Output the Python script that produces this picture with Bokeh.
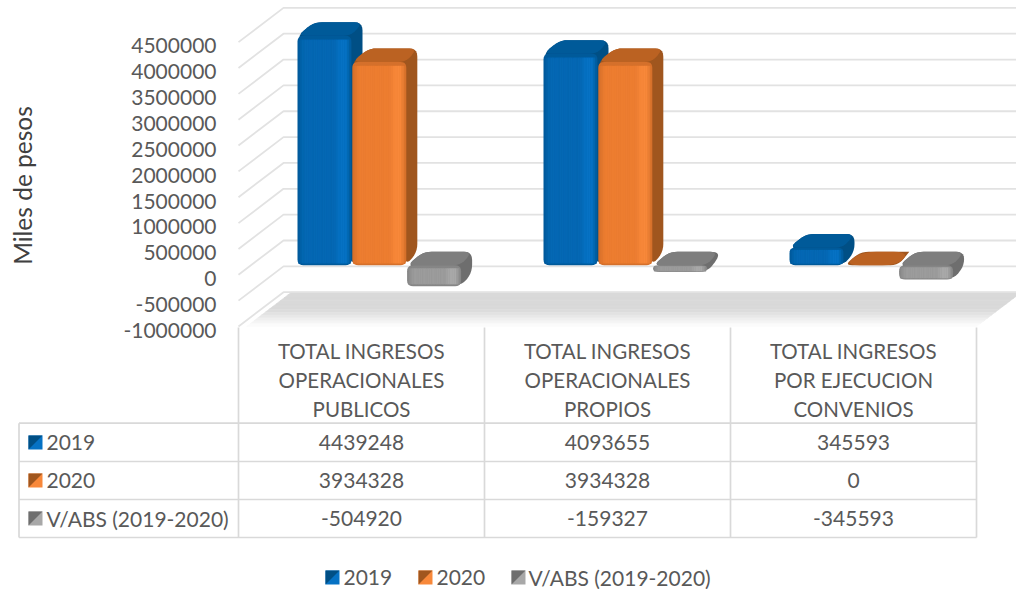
import math
from bokeh.plotting import figure
from bokeh.models import LinearAxis, FixedTicker, Range1d, NumeralTickFormatter
from bokeh.core.properties import value
from bokeh.embed import file_html
from bokeh.resources import INLINE

categories = ["TOTAL INGRESOS\nOPERACIONALES\nPUBLICOS", "TOTAL INGRESOS\nOPERACIONALES\nPROPIOS",
              "TOTAL INGRESOS\nPOR EJECUCION\nCONVENIOS"]
series_names = ["2019", "2020", "V/ABS (2019-2020)"]
v2019 = [4439248, 4093655, 345593]
v2020 = [3934328, 3934328, 0]
vabs = [-504920, -159327, -345593]
ticks = [-1000000, -500000, 0, 500000, 1000000, 1500000, 2000000, 2500000, 3000000, 3500000, 4000000, 4500000]
series = [v2019, v2020, vabs]

FONT = "Lato"
TXT = "#595959"
FS = "20.5px"
FS_NUM = "21px"
# face, top, side, dark edge, highlight
PAL = [("#0468b4", "#005a99", "#004f85", "#005a9a", "#0672c4"),
       ("#ed7d31", "#bb6222", "#a0561e", "#d5702b", "#f8883a"),
       ("#9c9c9c", "#7e7e7e", "#6e6e6e", "#868686", "#a8a8a8")]

# scales: one category = 246 px, 500000 = 25.85 px
PXU = 1 / 246.0
PXV = 500000 / 25.85
W, H = 1016, 589
X0, Y0 = 238.0, 274.3   # picture position of category 0 / value 0


def U(px):
    return (px - X0) * PXU


def V(py):
    return (Y0 - py) * PXV


def hexmix(a, b, t):
    ca = [int(a[i:i + 2], 16) for i in (1, 3, 5)]
    cb = [int(b[i:i + 2], 16) for i in (1, 3, 5)]
    return "#%02x%02x%02x" % tuple(int(x + (y - x) * t) for x, y in zip(ca, cb))


p = figure(width=W, height=H, output_backend="svg", toolbar_location=None, min_border=0,
           x_axis_type=None, y_axis_type=None, outline_line_color=None,
           x_range=Range1d(U(0), U(W)), y_range=Range1d(V(H), V(0)))
p.grid.visible = False

DX, DY = 45 * PXU, 34.3 * PXV
BACK_END = U(1030)
GRID = "#e2e2e2"

# floor with a soft fade towards the front
n = 12
for k in range(n):
    a, b = k / n, (k + 1) / n
    t = (k + 0.5) / n
    shade = 217 if t < 0.5 else int(217 + (255 - 217) * (t - 0.5) / 0.5)
    vt = ticks[0] + DY * (1 - a)
    vb = ticks[0] + DY * (1 - b)
    fade = 8 * PXU
    xs = [DX * (1 - a) + fade, 3 + DX * (1 - a), 3 + DX * (1 - b), DX * (1 - b) + fade]
    col = "#%02x%02x%02x" % (shade, shade, shade)
    p.patch(xs, [vt, vt, vb, vb], fill_color=col, line_color=col, line_width=0.6)

# wall and side grid lines
p.multi_line([[0, DX, BACK_END] for _ in ticks], [[t, t + DY, t + DY] for t in ticks],
             line_color=GRID, line_width=1.8)

# table grid
table_rows = [V(422.7), V(461), V(499), V(537)]
col_edges = [0, 1, 2, 3]
left_edge = U(18.5)
p.segment([left_edge] * 4, table_rows, [3] * 4, table_rows, line_color="#d9d9d9", line_width=1.7)
p.segment(col_edges, [V(327)] * 4, col_edges, [table_rows[-1]] * 4, line_color="#d9d9d9", line_width=1.7)
p.segment([left_edge], [table_rows[0]], [left_edge], [table_rows[-1]], line_color="#d9d9d9", line_width=1.7)


def fillet(pts, r):
    out_x, out_y = [], []
    P = [(x / PXU, y / PXV) for x, y in pts]
    m = len(P)
    for i in range(m):
        a, b, c = P[i - 1], P[i], P[(i + 1) % m]

        def toward(s, e):
            dx, dy = e[0] - s[0], e[1] - s[1]
            L = (dx * dx + dy * dy) ** 0.5 or 1
            q = min(r, L / 2) / L
            return s[0] + dx * q, s[1] + dy * q
        s, e = toward(b, a), toward(b, c)
        for j in range(6):
            t = j / 5
            out_x.append(((1 - t) ** 2 * s[0] + 2 * t * (1 - t) * b[0] + t * t * e[0]) * PXU)
            out_y.append(((1 - t) ** 2 * s[1] + 2 * t * (1 - t) * b[1] + t * t * e[1]) * PXV)
    return out_x, out_y


BASE = 9.5 * PXV          # bars stand in the middle of the depth
NEG = 0.8                 # negative bars look shorter in the perspective of the original
BW, BD = 54 * PXU, 11 * PXU
TD = 13.5 * PXV
for i in range(3):
    for j, ser in enumerate(series):
        val = ser[i]
        face, top, side, edge, hi = PAL[j]
        x0 = i + (59 + j * 54.8) * PXU
        x1 = x0 + BW
        yt = max(val, 0) + BASE
        yb = min(val, 0) * NEG + BASE
        # top and side faces
        xs, ys = fillet([(x0, yt), (x0 + BD * 1.5, yt + TD), (x1 + BD, yt + TD), (x1 + BD, yb + TD), (x1, yb)], 8)
        p.patch(xs, ys, fill_color=side, line_color=None)
        rr = 16 if val == 0 else 8
        xs, ys = fillet([(x0, yt), (x0 + BD * 1.5, yt + TD), (x1 + BD, yt + TD), (x1, yt)], rr)
        p.patch(xs, ys, fill_color=top, line_color=None)
        if val == 0:
            continue
        # front face with softly shaded vertical strips
        xs2, ys2 = fillet([(x0, yt), (x1, yt), (x1, yb), (x0, yb)], 6)
        p.patch(xs2, ys2, fill_color=edge, line_color=None)
        h = yt - yb
        inset_t = min(4 * PXV, h * 0.15)
        inset_b = min(2 * PXV, h * 0.1)
        stops = [(0.0, edge), (0.12, face), (0.68, face), (0.8, hi), (0.9, hi), (1.0, edge)]
        m = 24
        ls, rs, cs = [], [], []
        for s in range(m):
            f = (s + 0.5) / m
            for (f0, c0), (f1, c1) in zip(stops, stops[1:]):
                if f0 <= f <= f1:
                    cs.append(hexmix(c0, c1, (f - f0) / (f1 - f0)))
                    break
            ls.append(x0 + BW * (s + 0.5 if s == 0 else s) / m)
            rs.append(x0 + BW * (s + 0.5 if s == m - 1 else s + 1) / m)
        p.quad(left=ls, right=rs, top=[yt - inset_t] * m, bottom=[yb + inset_b] * m,
               fill_color=cs, line_color=cs, line_width=0.4)

# category labels
lx, ly, lt = [], [], []
for i, c in enumerate(categories):
    for k, line in enumerate(c.split("\n")):
        lx.append(i + 0.5)
        ly.append(V(350.5 + k * 29))
        lt.append(line)
p.text(lx, ly, lt, text_font=value(FONT), text_font_size=FS, text_color=TXT,
       text_align="center", text_baseline="middle")

# table values
row_y = [V(442), V(480), V(518)]
tx, ty, tt = [], [], []
for r, ser in enumerate(series):
    for i, val in enumerate(ser):
        tx.append(i + 0.5)
        ty.append(row_y[r])
        tt.append(str(val))
p.text(tx, ty, tt, text_font=value(FONT), text_font_size=FS_NUM, text_color=TXT,
       text_align="center", text_baseline="middle")
p.text([U(46)] * 3, row_y, series_names, text_font=value(FONT), text_font_size=FS_NUM, text_color=TXT,
       text_align="left", text_baseline="middle")


def key(px, py, j):
    face, top, side, edge, hi = PAL[j]
    x = [U(px), U(px + 14)]
    y = [V(py - 7), V(py + 7)]
    p.quad(left=[x[0]], right=[x[1]], top=[y[0]], bottom=[y[1]], fill_color=hi, line_color=None)
    p.patch([x[0], x[1], x[0]], [y[0], y[0], y[1]], fill_color=side, line_color=None)


for j in range(3):
    key(28, [442, 480, 518][j], j)

# legend
key_x = [325, 418, 511]
text_x = [343, 436, 528]
for j in range(3):
    key(key_x[j], 577, j)
p.text([U(x) for x in text_x], [V(577)] * 3, series_names, text_font=value(FONT), text_font_size=FS_NUM,
       text_color=TXT, text_align="left", text_baseline="middle")

# axis title
p.text([U(22)], [V(185)], ["Miles de pesos"], text_font=value(FONT), text_font_size="24.5px",
       text_color="#404040", text_align="center", text_baseline="middle", angle=math.pi / 2)

# value axis: its labels sit slightly below the ends of the grid lines
p.extra_y_ranges["labels"] = Range1d(V(H - 3.8), V(-3.8))
ax = LinearAxis(fixed_location=0, ticker=FixedTicker(ticks=ticks), y_range_name="labels",
                formatter=NumeralTickFormatter(format="0"))
ax.axis_line_color = None
ax.major_tick_line_color = None
ax.minor_tick_line_color = None
ax.major_label_text_font = FONT
ax.major_label_text_font_size = FS_NUM
ax.major_label_text_color = TXT
ax.major_label_standoff = 16
p.add_layout(ax, "left")

open("out.html", "w").write(file_html(p, INLINE))
